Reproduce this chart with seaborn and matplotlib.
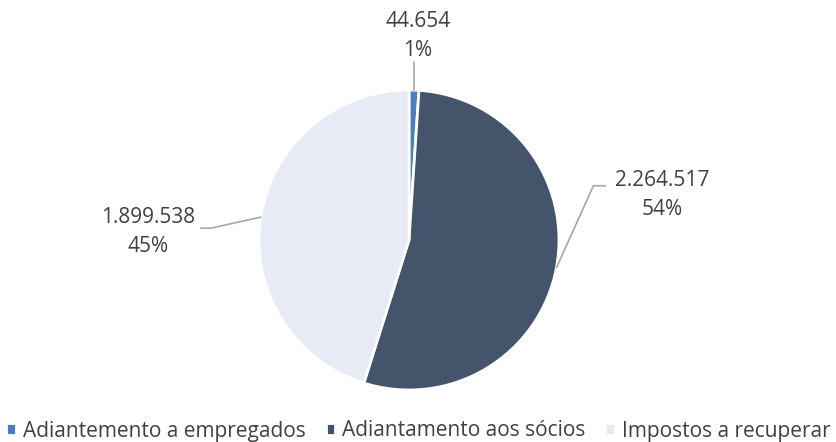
import numpy as np
import matplotlib.pyplot as plt
import seaborn as sns

categories = ['Adiantemento a empregados', 'Adiantamento aos sócios', 'Impostos a recuperar']
values = [44654, 2264517, 1899538]
colors = ['#4A7EBF', '#44546A', '#E8EAF5']

sns.set_theme(style='white')
plt.rcParams['font.family'] = ['Open Sans', 'DejaVu Sans']

fig = plt.figure(figsize=(8.37, 4.42), dpi=100)
W, H = 837, 442
cx, cy, r = 409, 240, 150
ax = fig.add_axes([(cx - r) / W, (H - cy - r) / H, 2 * r / W, 2 * r / H])

wedges, _ = ax.pie(values, colors=colors, startangle=90, counterclock=False,
                   radius=1, wedgeprops=dict(edgecolor='white', linewidth=2))
ax.set_xlim(-1, 1)
ax.set_ylim(-1, 1)
ax.set_aspect('equal')
ax.axis('off')

total = sum(values)
fmt = lambda v: f'{v:,}'.replace(',', '.')

# label block centre and leader path as pixel offsets from the wedge edge
label_offsets = [(4, 54), (106, 73), (-113, -15)]
line_paths = [[(0, 0), (0, 28)],
              [(0, 0), (37, 82), (49, 82)],
              [(0, 0), (-50, -11), (-60, -11)]]

for w, v, off, path in zip(wedges, values, label_offsets, line_paths):
    mid = np.deg2rad((w.theta1 + w.theta2) / 2)
    edge = (np.cos(mid), np.sin(mid))
    ex, ey = ax.transData.transform(edge)
    xs = [(ex + dx) for dx, dy in path]
    ys = [(ey + dy) for dx, dy in path]
    pts = ax.transData.inverted().transform(np.column_stack([xs, ys]))
    ax.plot(pts[:, 0], pts[:, 1], color='#A6A6A6', lw=1.2, clip_on=False)
    ax.annotate(f'{fmt(v)}\n{v / total:.0%}', xy=edge, xytext=off,
                textcoords='offset pixels', ha='center', va='center',
                multialignment='center', linespacing=1.5,
                fontsize=15, color='#404040', annotation_clip=False)

fig.legend(wedges, categories, loc='center', bbox_to_anchor=(0.5, 1 - 431 / H),
           ncol=3, frameon=False, fontsize=15, handlelength=0.45,
           handleheight=0.45, handletextpad=0.35, columnspacing=0.95,
           borderpad=0, labelcolor='#404040')

fig.savefig('out.png', dpi=100)
